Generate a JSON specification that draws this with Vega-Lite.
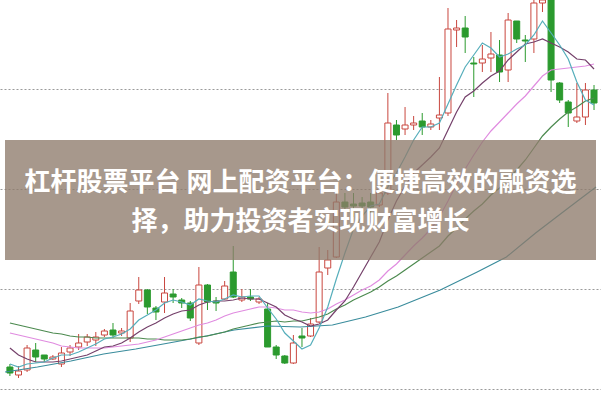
{
  "$schema": "https://vega.github.io/schema/vega-lite/v6.json",
  "width": 601,
  "height": 401,
  "padding": 0,
  "autosize": {"type": "fit", "contains": "padding"},
  "background": "#ffffff",
  "config": {
    "view": {"stroke": null}
  },
  "datasets": {
    "k": [
      {"i":0,"d":"down","o":10.22,"c":10.16,"h":10.25,"l":10.13,"m5":10.25,"m10":10.41,"m20":10.56,"m30":10.66},
      {"i":1,"d":"up","o":10.14,"c":10.18,"h":10.23,"l":10.11,"m5":10.22,"m10":10.34,"m20":10.54,"m30":10.64},
      {"i":2,"d":"up","o":10.19,"c":10.41,"h":10.44,"l":10.17,"m5":10.25,"m10":10.30,"m20":10.52,"m30":10.62},
      {"i":3,"d":"down","o":10.39,"c":10.32,"h":10.46,"l":10.27,"m5":10.26,"m10":10.27,"m20":10.50,"m30":10.60},
      {"i":4,"d":"down","o":10.34,"c":10.30,"h":10.34,"l":10.27,"m5":10.27,"m10":10.27,"m20":10.48,"m30":10.58},
      {"i":5,"d":"up","o":10.30,"c":10.32,"h":10.34,"l":10.29,"m5":10.31,"m10":10.27,"m20":10.46,"m30":10.56},
      {"i":6,"d":"up","o":10.25,"c":10.36,"h":10.42,"l":10.22,"m5":10.34,"m10":10.28,"m20":10.43,"m30":10.55},
      {"i":7,"d":"up","o":10.37,"c":10.41,"h":10.44,"l":10.33,"m5":10.34,"m10":10.30,"m20":10.42,"m30":10.53},
      {"i":8,"d":"up","o":10.42,"c":10.46,"h":10.55,"l":10.39,"m5":10.37,"m10":10.32,"m20":10.41,"m30":10.52},
      {"i":9,"d":"up","o":10.47,"c":10.52,"h":10.55,"l":10.43,"m5":10.41,"m10":10.34,"m20":10.41,"m30":10.52},
      {"i":10,"d":"up","o":10.49,"c":10.52,"h":10.57,"l":10.43,"m5":10.45,"m10":10.38,"m20":10.41,"m30":10.51},
      {"i":11,"d":"up","o":10.54,"c":10.58,"h":10.60,"l":10.52,"m5":10.50,"m10":10.42,"m20":10.41,"m30":10.51},
      {"i":12,"d":"down","o":10.59,"c":10.54,"h":10.66,"l":10.51,"m5":10.52,"m10":10.43,"m20":10.42,"m30":10.51},
      {"i":13,"d":"up","o":10.56,"c":10.58,"h":10.61,"l":10.53,"m5":10.55,"m10":10.46,"m20":10.43,"m30":10.51},
      {"i":14,"d":"up","o":10.51,"c":10.78,"h":10.86,"l":10.47,"m5":10.60,"m10":10.51,"m20":10.44,"m30":10.51},
      {"i":15,"d":"up","o":10.88,"c":10.99,"h":11.12,"l":10.85,"m5":10.69,"m10":10.57,"m20":10.45,"m30":10.51},
      {"i":16,"d":"down","o":10.99,"c":10.82,"h":11.00,"l":10.75,"m5":10.74,"m10":10.62,"m20":10.47,"m30":10.50},
      {"i":17,"d":"down","o":10.81,"c":10.77,"h":10.83,"l":10.69,"m5":10.79,"m10":10.66,"m20":10.49,"m30":10.50},
      {"i":18,"d":"up","o":10.87,"c":10.96,"h":11.12,"l":10.76,"m5":10.86,"m10":10.71,"m20":10.52,"m30":10.49},
      {"i":19,"d":"down","o":10.95,"c":10.92,"h":11.00,"l":10.86,"m5":10.89,"m10":10.75,"m20":10.55,"m30":10.49},
      {"i":20,"d":"down","o":10.89,"c":10.86,"h":10.91,"l":10.81,"m5":10.87,"m10":10.78,"m20":10.58,"m30":10.49},
      {"i":21,"d":"down","o":10.86,"c":10.71,"h":10.88,"l":10.68,"m5":10.84,"m10":10.79,"m20":10.61,"m30":10.50},
      {"i":22,"d":"up","o":10.46,"c":11.04,"h":11.22,"l":10.44,"m5":10.90,"m10":10.84,"m20":10.64,"m30":10.52},
      {"i":23,"d":"down","o":11.04,"c":10.87,"h":11.05,"l":10.79,"m5":10.88,"m10":10.87,"m20":10.66,"m30":10.53},
      {"i":24,"d":"down","o":10.88,"c":10.86,"h":10.92,"l":10.78,"m5":10.87,"m10":10.88,"m20":10.69,"m30":10.55},
      {"i":25,"d":"up","o":10.90,"c":11.03,"h":11.08,"l":10.89,"m5":10.90,"m10":10.88,"m20":10.73,"m30":10.57},
      {"i":26,"d":"down","o":11.17,"c":10.92,"h":11.43,"l":10.91,"m5":10.94,"m10":10.89,"m20":10.76,"m30":10.60},
      {"i":27,"d":"up","o":10.89,"c":10.92,"h":11.00,"l":10.87,"m5":10.92,"m10":10.91,"m20":10.78,"m30":10.62},
      {"i":28,"d":"down","o":10.92,"c":10.90,"h":11.00,"l":10.88,"m5":10.93,"m10":10.90,"m20":10.80,"m30":10.64},
      {"i":29,"d":"up","o":10.87,"c":10.90,"h":10.92,"l":10.85,"m5":10.93,"m10":10.90,"m20":10.82,"m30":10.66},
      {"i":30,"d":"down","o":10.80,"c":10.42,"h":10.86,"l":10.42,"m5":10.81,"m10":10.86,"m20":10.82,"m30":10.67},
      {"i":31,"d":"down","o":10.42,"c":10.34,"h":10.44,"l":10.30,"m5":10.70,"m10":10.82,"m20":10.81,"m30":10.68},
      {"i":32,"d":"down","o":10.33,"c":10.26,"h":10.34,"l":10.25,"m5":10.56,"m10":10.74,"m20":10.79,"m30":10.67},
      {"i":33,"d":"up","o":10.26,"c":10.46,"h":10.54,"l":10.25,"m5":10.48,"m10":10.70,"m20":10.79,"m30":10.68},
      {"i":34,"d":"down","o":10.53,"c":10.51,"h":10.61,"l":10.42,"m5":10.40,"m10":10.67,"m20":10.77,"m30":10.68},
      {"i":35,"d":"up","o":10.53,"c":10.65,"h":10.71,"l":10.52,"m5":10.44,"m10":10.63,"m20":10.76,"m30":10.70},
      {"i":36,"d":"up","o":10.67,"c":11.17,"h":11.42,"l":10.66,"m5":10.61,"m10":10.65,"m20":10.77,"m30":10.72},
      {"i":37,"d":"up","o":11.21,"c":11.29,"h":11.39,"l":11.14,"m5":10.82,"m10":10.69,"m20":10.80,"m30":10.75},
      {"i":38,"d":"up","o":11.32,"c":11.87,"h":12.02,"l":11.31,"m5":11.10,"m10":10.79,"m20":10.85,"m30":10.80},
      {"i":39,"d":"down","o":11.87,"c":11.82,"h":11.96,"l":11.79,"m5":11.36,"m10":10.88,"m20":10.89,"m30":10.84},
      {"i":40,"d":"down","o":11.85,"c":11.83,"h":11.96,"l":11.72,"m5":11.60,"m10":11.02,"m20":10.94,"m30":10.89},
      {"i":41,"d":"down","o":11.86,"c":11.83,"h":11.92,"l":11.79,"m5":11.73,"m10":11.17,"m20":10.99,"m30":10.93},
      {"i":42,"d":"down","o":11.87,"c":11.82,"h":11.96,"l":11.76,"m5":11.83,"m10":11.32,"m20":11.03,"m30":10.97},
      {"i":43,"d":"up","o":11.84,"c":11.96,"h":12.04,"l":11.82,"m5":11.85,"m10":11.47,"m20":11.09,"m30":11.02},
      {"i":44,"d":"up","o":11.96,"c":12.66,"h":12.96,"l":11.94,"m5":12.02,"m10":11.69,"m20":11.18,"m30":11.08},
      {"i":45,"d":"down","o":12.64,"c":12.54,"h":12.69,"l":12.49,"m5":12.16,"m10":11.88,"m20":11.25,"m30":11.13},
      {"i":46,"d":"up","o":12.60,"c":12.64,"h":12.82,"l":12.54,"m5":12.32,"m10":12.03,"m20":11.34,"m30":11.19},
      {"i":47,"d":"up","o":12.64,"c":12.66,"h":12.73,"l":12.59,"m5":12.49,"m10":12.16,"m20":11.43,"m30":11.25},
      {"i":48,"d":"down","o":12.68,"c":12.62,"h":12.76,"l":12.54,"m5":12.62,"m10":12.24,"m20":11.51,"m30":11.31},
      {"i":49,"d":"up","o":12.62,"c":12.65,"h":12.69,"l":12.59,"m5":12.62,"m10":12.32,"m20":11.60,"m30":11.37},
      {"i":50,"d":"up","o":12.71,"c":12.74,"h":13.12,"l":12.59,"m5":12.66,"m10":12.41,"m20":11.72,"m30":11.43},
      {"i":51,"d":"up","o":12.76,"c":13.60,"h":13.81,"l":12.73,"m5":12.85,"m10":12.59,"m20":11.88,"m30":11.53},
      {"i":52,"d":"up","o":13.59,"c":13.61,"h":13.69,"l":13.42,"m5":13.04,"m10":12.77,"m20":12.05,"m30":11.61},
      {"i":53,"d":"down","o":13.61,"c":13.52,"h":13.73,"l":13.36,"m5":13.22,"m10":12.92,"m20":12.20,"m30":11.70},
      {"i":54,"d":"down","o":13.26,"c":13.25,"h":13.32,"l":12.92,"m5":13.34,"m10":12.98,"m20":12.34,"m30":11.78},
      {"i":55,"d":"up","o":13.26,"c":13.30,"h":13.44,"l":13.17,"m5":13.46,"m10":13.06,"m20":12.47,"m30":11.85},
      {"i":56,"d":"up","o":13.31,"c":13.35,"h":13.57,"l":13.17,"m5":13.41,"m10":13.13,"m20":12.58,"m30":11.94},
      {"i":57,"d":"down","o":13.34,"c":13.17,"h":13.49,"l":13.07,"m5":13.32,"m10":13.18,"m20":12.67,"m30":12.01},
      {"i":58,"d":"up","o":13.19,"c":13.69,"h":13.76,"l":13.07,"m5":13.35,"m10":13.29,"m20":12.76,"m30":12.10},
      {"i":59,"d":"down","o":13.68,"c":13.50,"h":13.68,"l":13.46,"m5":13.40,"m10":13.37,"m20":12.85,"m30":12.19},
      {"i":60,"d":"down","o":13.49,"c":13.48,"h":13.54,"l":13.27,"m5":13.44,"m10":13.45,"m20":12.93,"m30":12.29},
      {"i":61,"d":"up","o":13.50,"c":13.86,"h":13.89,"l":13.36,"m5":13.54,"m10":13.47,"m20":13.03,"m30":12.41},
      {"i":62,"d":"up","o":13.86,"c":13.89,"h":13.94,"l":13.77,"m5":13.68,"m10":13.50,"m20":13.13,"m30":12.53},
      {"i":63,"d":"down","o":13.89,"c":13.09,"h":13.94,"l":12.97,"m5":13.56,"m10":13.46,"m20":13.19,"m30":12.62},
      {"i":64,"d":"down","o":13.06,"c":12.89,"h":13.07,"l":12.86,"m5":13.44,"m10":13.42,"m20":13.20,"m30":12.70},
      {"i":65,"d":"down","o":12.87,"c":12.76,"h":12.89,"l":12.62,"m5":13.30,"m10":13.37,"m20":13.21,"m30":12.77},
      {"i":66,"d":"up","o":12.68,"c":12.72,"h":13.06,"l":12.66,"m5":13.07,"m10":13.30,"m20":13.22,"m30":12.82},
      {"i":67,"d":"up","o":12.72,"c":12.99,"h":13.06,"l":12.64,"m5":12.89,"m10":13.29,"m20":13.23,"m30":12.88},
      {"i":68,"d":"down","o":12.99,"c":12.86,"h":13.04,"l":12.79,"m5":12.84,"m10":13.20,"m20":13.25,"m30":12.91}
    ],
    "ma60": [
      {"i":-0.57,"v":10.17},{"i":3.2,"v":10.22},{"i":7.1,"v":10.28},{"i":10.9,"v":10.35},
      {"i":14.65,"v":10.40},{"i":18.5,"v":10.46},{"i":22.3,"v":10.52},{"i":26.1,"v":10.59},
      {"i":30.0,"v":10.63},{"i":33.8,"v":10.62},{"i":37.55,"v":10.64},{"i":41.4,"v":10.72},
      {"i":45.2,"v":10.82},{"i":50.1,"v":10.99},{"i":54.4,"v":11.17},{"i":57.8,"v":11.32},
      {"i":61.2,"v":11.56},{"i":64.7,"v":11.79},{"i":68.23,"v":12.02}
    ]
  },
  "layer": [
    {
      "data": {"name": "k"},
      "mark": {"type": "rule", "strokeWidth": 1, "clip": true},
      "encoding": {
        "x": {"field": "i", "type": "quantitative", "axis": null, "scale": {"domain": [-0.572, 68.23], "nice": false, "zero": false}},
        "y": {"field": "h", "type": "quantitative", "scale": {"domain": [9.88, 13.89], "nice": false, "zero": false},
              "axis": {"values": [10, 11, 12, 13], "grid": true, "gridDash": [2, 2], "gridColor": "#9a9a9a", "gridWidth": 1, "labels": false, "ticks": false, "domain": false, "title": null}},
        "y2": {"field": "l"},
        "color": {"field": "d", "type": "nominal", "scale": {"domain": ["up", "down"], "range": ["#c9473f", "#2b9a2e"]}, "legend": null}
      }
    },
    {
      "data": {"name": "k"},
      "mark": {"type": "bar", "size": 6, "strokeWidth": 1, "clip": true},
      "encoding": {
        "x": {"field": "i", "type": "quantitative"},
        "y": {"field": "o", "type": "quantitative"},
        "y2": {"field": "c"},
        "fill": {"field": "d", "type": "nominal", "scale": {"domain": ["up", "down"], "range": ["#ffffff", "#2b9a2e"]}, "legend": null},
        "stroke": {"field": "d", "type": "nominal", "scale": {"domain": ["up", "down"], "range": ["#c9473f", "#2b9a2e"]}, "legend": null}
      }
    },
    {
      "data": {"name": "ma60"},
      "mark": {"type": "line", "color": "#3a8c9c", "strokeWidth": 1.2, "clip": true},
      "encoding": {"x": {"field": "i", "type": "quantitative"}, "y": {"field": "v", "type": "quantitative"}}
    },
    {
      "data": {"name": "k"},
      "mark": {"type": "line", "color": "#4c8a4f", "strokeWidth": 1.2, "clip": true},
      "encoding": {"x": {"field": "i", "type": "quantitative"}, "y": {"field": "m30", "type": "quantitative"}}
    },
    {
      "data": {"name": "k"},
      "mark": {"type": "line", "color": "#e08ce0", "strokeWidth": 1.2, "clip": true},
      "encoding": {"x": {"field": "i", "type": "quantitative"}, "y": {"field": "m20", "type": "quantitative"}}
    },
    {
      "data": {"name": "k"},
      "mark": {"type": "line", "color": "#74406a", "strokeWidth": 1.2, "clip": true},
      "encoding": {"x": {"field": "i", "type": "quantitative"}, "y": {"field": "m10", "type": "quantitative"}}
    },
    {
      "data": {"name": "k"},
      "mark": {"type": "line", "color": "#56aebb", "strokeWidth": 1.2, "clip": true},
      "encoding": {"x": {"field": "i", "type": "quantitative"}, "y": {"field": "m5", "type": "quantitative"}}
    },
    {
      "data": {"values": [{}]},
      "mark": {"type": "rect", "color": "#8e7b6b", "opacity": 0.78, "clip": true},
      "encoding": {
        "x": {"datum": -0.572, "type": "quantitative"},
        "x2": {"datum": 68.23},
        "y": {"datum": 12.49, "type": "quantitative"},
        "y2": {"datum": 11.29}
      }
    },
    {
      "data": {"values": [{"t": "杠杆股票平台 网上配资平台：便捷高效的融资选"}]},
      "mark": {"type": "text", "color": "#ffffff", "font": "Noto Sans CJK SC", "fontWeight": "bold", "fontSize": 26, "baseline": "middle", "align": "center"},
      "encoding": {"y": {"datum": 12.06, "type": "quantitative"}, "text": {"field": "t"}}
    },
    {
      "data": {"values": [{"t": "择，助力投资者实现财富增长"}]},
      "mark": {"type": "text", "color": "#ffffff", "font": "Noto Sans CJK SC", "fontWeight": "bold", "fontSize": 26, "baseline": "middle", "align": "center"},
      "encoding": {"y": {"datum": 11.67, "type": "quantitative"}, "text": {"field": "t"}}
    }
  ]
}
